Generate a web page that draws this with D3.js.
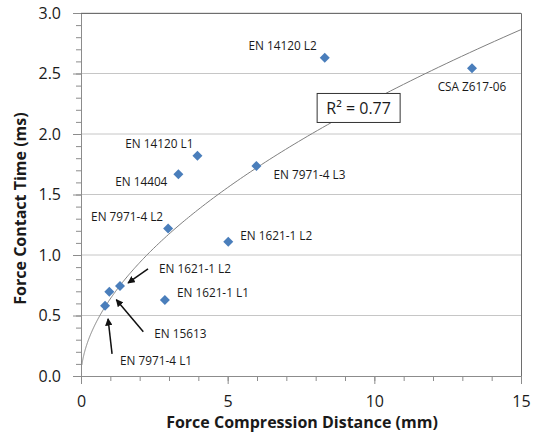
<!DOCTYPE html>
<head>
  <meta charset="utf-8">
  <script src="https://d3js.org/d3.v7.min.js"></script>
  <style>
    body { margin:0; background:#fff; }
    svg text { font-family: "Open Sans", sans-serif; fill: #1a1a1a; }
    .grid line { stroke: #c6c6c6; stroke-width: 1; }
    .axis path, .axis line { stroke: #8c8c8c; }
    .axis text { font-size: 16px; fill: #1a1a1a; }
    .frame { fill: none; stroke: #6e6e6e; stroke-width: 1; }
    .trend { fill: none; stroke: #808080; stroke-width: 1; }
    .pt { fill: #4a7ebb; }
    .lbl { font-size: 11.8px; }
    .arrow { stroke: #111; stroke-width: 1.5; }
    .axis-title { font-size: 16px; font-weight: bold; }
  </style>
</head>

<body>
  <script>
    // data
    var names = ["EN 7971-4 L1", "EN 15613", "EN 1621-1 L2", "EN 1621-1 L1", "EN 7971-4 L2",
                 "EN 14404", "EN 14120 L1", "EN 7971-4 L3", "EN 1621-1 L2", "EN 14120 L2", "CSA Z617-06"];
    var distance = [0.82, 0.965, 1.33, 2.86, 2.97, 3.32, 3.97, 5.98, 5.02, 8.31, 13.33];
    var contactTime = [0.58, 0.697, 0.744, 0.628, 1.22, 1.667, 1.82, 1.736, 1.11, 2.63, 2.543];

    var xTicks = [0, 5, 10, 15];
    var yTicks = [0, 0.5, 1.0, 1.5, 2.0, 2.5, 3.0];

    // label placement (px, relative to marker) and which labels get an arrow
    var labelDx = [15, 45, 39, 12, -5, -11, -4, 17, 12, -8, 0];
    var labelDy = [59, 46, -13, -3, -7, 12, -8, 13, -2, -8, 23];
    var labelAnchor = ["start", "start", "start", "start", "end", "end", "end", "start", "start", "end", "middle"];
    var arrows = [
      {i: 0, from: [7, 48], to: [3, 13]},
      {i: 1, from: [34, 40], to: [7, 8]},
      {i: 2, from: [28, -17], to: [8, -3]}
    ];

    var margin = {top: 13, right: 12, bottom: 69, left: 81};
    var width = 533 - margin.left - margin.right,
        height = 445 - margin.top - margin.bottom;

    var svg = d3.select("body").append("svg")
        .attr("width", 533)
        .attr("height", 445)
      .append("g")
        .attr("transform", "translate(" + margin.left + "," + margin.top + ")");

    var defs = svg.append("defs");
    defs.append("marker")
      .attr("id", "head")
      .attr("viewBox", "0 0 10 10")
      .attr("refX", 9).attr("refY", 5)
      .attr("markerWidth", 5).attr("markerHeight", 5)
      .attr("orient", "auto")
      .append("path")
      .attr("d", "M0,0L10,5L0,10z")
      .attr("fill", "#111");

    var x = d3.scaleLinear().domain([0, 15]).range([0, width]);
    var y = d3.scaleLinear().domain([0, 3]).range([height, 0]);

    // horizontal gridlines
    svg.append("g")
      .attr("class", "grid")
      .selectAll("line")
      .data(yTicks.slice(1))
      .enter().append("line")
      .attr("x1", 0).attr("x2", width)
      .attr("y1", function(d) { return y(d); })
      .attr("y2", function(d) { return y(d); });

    // minor ticks
    svg.append("g")
      .attr("class", "axis")
      .call(d3.axisLeft(y).ticks(30).tickSize(5).tickFormat(""))
      .select(".domain").remove();
    svg.append("g")
      .attr("class", "axis")
      .attr("transform", "translate(0," + height + ")")
      .call(d3.axisBottom(x).ticks(15).tickSize(5).tickFormat(""))
      .select(".domain").remove();

    var yAxis = svg.append("g")
      .attr("class", "axis")
      .call(d3.axisLeft(y).tickValues(yTicks).tickSize(8).tickSizeOuter(0).tickPadding(12)
        .tickFormat(d3.format(".1f")));
    var xAxis = svg.append("g")
      .attr("class", "axis")
      .attr("transform", "translate(0," + height + ")")
      .call(d3.axisBottom(x).tickValues(xTicks).tickSize(8).tickSizeOuter(0).tickPadding(12));

    // top and right frame
    svg.append("path")
      .attr("class", "frame")
      .attr("d", "M0,0.5H" + (width + 0.5) + "V" + height);

    // power trendline, fitted by least squares on log values (Excel style)
    var lx = distance.map(Math.log), ly = contactTime.map(Math.log);
    var mx = d3.mean(lx), my = d3.mean(ly);
    var sxy = d3.sum(lx, function(v, i) { return (v - mx) * (ly[i] - my); });
    var sxx = d3.sum(lx, function(v) { return (v - mx) * (v - mx); });
    var syy = d3.sum(ly, function(v) { return (v - my) * (v - my); });
    var b = sxy / sxx, a = Math.exp(my - b * mx);
    var r2 = sxy * sxy / (sxx * syy);

    var curve = d3.range(0, 301).map(function(k) {
      var xv = 0.03 * Math.pow(15 / 0.03, k / 300);
      return [xv, a * Math.pow(xv, b)];
    });
    svg.append("path")
      .datum(curve)
      .attr("class", "trend")
      .attr("d", d3.line()
        .x(function(d) { return x(d[0]); })
        .y(function(d) { return y(d[1]); }));

    // markers
    svg.append("g").selectAll("path")
      .data(distance)
      .enter().append("path")
      .attr("class", "pt")
      .attr("transform", function(d, i) { return "translate(" + x(d) + "," + y(contactTime[i]) + ")"; })
      .attr("d", "M0,-5L5,0L0,5L-5,0Z");

    // labels
    svg.append("g").selectAll("text")
      .data(names)
      .enter().append("text")
      .attr("class", "lbl")
      .attr("x", function(d, i) { return x(distance[i]) + labelDx[i]; })
      .attr("y", function(d, i) { return y(contactTime[i]) + labelDy[i]; })
      .attr("text-anchor", function(d, i) { return labelAnchor[i]; })
      .text(function(d) { return d; });

    svg.append("g").selectAll("line")
      .data(arrows)
      .enter().append("line")
      .attr("class", "arrow")
      .attr("x1", function(d) { return x(distance[d.i]) + d.from[0]; })
      .attr("y1", function(d) { return y(contactTime[d.i]) + d.from[1]; })
      .attr("x2", function(d) { return x(distance[d.i]) + d.to[0]; })
      .attr("y2", function(d) { return y(contactTime[d.i]) + d.to[1]; })
      .attr("marker-end", "url(#head)");

    // R² box
    var box = svg.append("g").attr("transform", "translate(" + x(8.05) + "," + y(2.335) + ")");
    box.append("rect")
      .attr("width", 83).attr("height", 29)
      .attr("fill", "#fff").attr("stroke", "#333").attr("stroke-width", 1);
    box.append("text")
      .attr("x", 41.5).attr("y", 20.5)
      .attr("text-anchor", "middle")
      .attr("font-size", 16)
      .text("R² = " + d3.format(".2f")(r2));

    // axis titles
    svg.append("text")
      .attr("class", "axis-title")
      .attr("x", width / 2 + 1)
      .attr("y", height + 52)
      .attr("text-anchor", "middle")
      .text("Force Compression Distance (mm)");
    svg.append("text")
      .attr("class", "axis-title")
      .attr("transform", "translate(" + (-55) + "," + (height / 2 + 14) + ") rotate(-90)")
      .attr("text-anchor", "middle")
      .text("Force Contact Time (ms)");
  </script>
</body>
